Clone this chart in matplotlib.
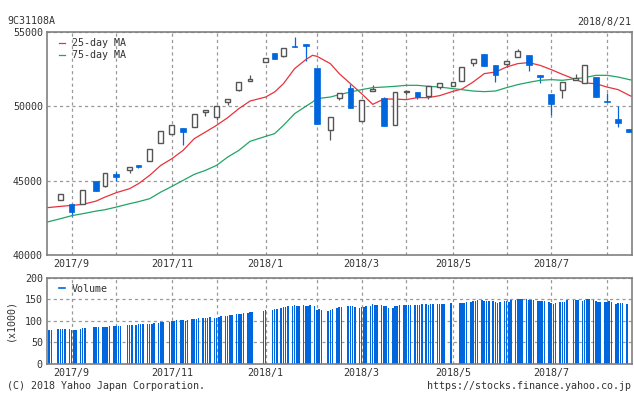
import matplotlib.pyplot as plt
from matplotlib.lines import Line2D

# weekly candles (x = trading-day slot, 5 slots per week)
candle_day = [6, 11, 16, 22, 26, 31, 37, 41, 46, 51, 56, 61, 66, 71, 76, 81, 86, 91, 98, 102,
              106, 111, 116, 121, 127, 131, 136, 141, 146, 151, 156, 161, 166, 171, 176, 182, 186, 191, 196, 201,
              206, 211, 216, 221, 226, 231, 237, 241, 246, 251, 256, 261]
c_open = [43721, 43451, 43425, 44952, 44663, 45444, 45693, 46029, 46318, 47557, 48162, 48566, 48606, 49643, 49280, 50289, 51076, 51702, 52981, 53567,
          53385, 54058, 54219, 52557, 48431, 50585, 51258, 49037, 51056, 50538, 48741, 50962, 50989, 50693, 51325, 51393, 51729, 52941, 53499, 52759,
          52846, 53344, 53432, 52086, 50807, 51097, 51769, 51568, 51951, 50356, 49125, 48450]
c_high = [44077, 43451, 44393, 44952, 45511, 45578, 45895, 46060, 47153, 48364, 48721, 48566, 49508, 49777, 50000, 50491, 51635, 52133, 53277, 53567,
          53950, 54663, 54219, 52557, 49306, 50922, 51527, 50450, 51460, 50626, 50989, 51056, 50989, 51346, 51547, 51614, 52671, 53210, 53499, 52759,
          53076, 53836, 53432, 52086, 50807, 51662, 52153, 52759, 51951, 50894, 50000, 48450]
c_low = [43721, 42597, 43425, 44299, 44569, 44972, 45511, 45880, 46318, 47557, 48162, 47375, 48606, 49374, 49051, 50087, 51029, 51702, 52981, 53183,
         53317, 53970, 53028, 48808, 47758, 50450, 49885, 49037, 51056, 48674, 48741, 50740, 50491, 50518, 51164, 51393, 51729, 52712, 52712, 51635,
         52625, 53344, 52375, 51567, 49414, 50558, 51769, 51568, 50625, 50289, 48606, 48270]
c_close = [44077, 42886, 44393, 44299, 45511, 45242, 45895, 45914, 47153, 48364, 48721, 48270, 49508, 49777, 50000, 50491, 51635, 51837, 53277, 53183,
           53950, 53970, 54058, 48808, 49306, 50922, 49885, 50450, 51164, 48674, 50989, 51056, 50626, 51346, 51547, 51614, 52671, 53210, 52712, 52133,
           53076, 53701, 52779, 51971, 50154, 51662, 51931, 52759, 50625, 50289, 48876, 48270]

# moving averages
ma_day = [0, 6, 11, 16, 22, 26, 31, 37, 41, 46, 51, 56, 61, 66, 71, 76, 81, 86, 91, 98, 102,
          106, 111, 116, 119, 121, 127, 131, 136, 141, 146, 151, 156, 161, 166, 171, 176, 182, 186, 191, 196, 201,
          206, 211, 216, 221, 226, 231, 237, 241, 246, 251, 256, 261, 262]
ma25 = [43182, 43270, 43337, 43404, 43626, 43896, 44190, 44460, 44797, 45356, 46029, 46480, 47038, 47826, 48270, 48721, 49239, 49845, 50356, 50626, 50962,
        51527, 52537, 53142, 53432, 53365, 52873, 52200, 51527, 50854, 50134, 50491, 50491, 50450, 50585, 50585, 50720, 51009, 51164, 51635, 52200, 52308,
        52645, 52873, 52940, 52759, 52470, 52153, 51796, 51568, 51527, 51298, 51124, 50740, 50673]
ma75 = [42213, 42441, 42643, 42778, 42953, 43047, 43222, 43451, 43586, 43788, 44232, 44616, 45020, 45423, 45692, 46029, 46587, 47038, 47644, 47980, 48162,
        48721, 49508, 50000, 50290, 50518, 50626, 50787, 50962, 51124, 51258, 51298, 51346, 51413, 51413, 51346, 51298, 51190, 51124, 51029, 50989, 51029,
        51258, 51460, 51615, 51750, 51796, 51750, 51864, 51931, 52086, 52086, 51972, 51796, 51770]

# volume (x1000), four day slots per week, None = no bar
vol_weeks = [
    [None, 79, 79, None], [81, 81, 81, 81], [80, 79, 79, 79], [81, 83, 83, None],
    [None, 86, 86, 86], [86, 86, 86, 88], [88, 88, 88, 88], [None, 90, 90, 90],
    [90, 93, 93, 93], [93, 93, 93, 95], [95, 97, 97, None], [97, 100, 100, 102],
    [102, 102, 100, 102], [104, 104, 104, 106], [106, 106, 106, 109], [106, 106, 109, 111],
    [111, 111, 113, 113], [116, 116, 116, 118], [118, 120, 120, None], [None, None, 123, 125],
    [None, 125, 127, 127], [130, 132, 132, 134], [134, 137, 134, 134], [137, 134, 134, 137],
    [134, 125, 127, 125], [None, 123, 125, 127], [130, 132, 132, None], [134, 134, 134, 132],
    [130, 132, 132, 134], [134, 139, 137, 137], [137, 134, 134, 130], [130, 134, 134, 137],
    [137, 137, 137, 137], [137, 137, 137, 139], [139, 137, 139, 139], [139, 139, 139, 139],
    [None, 141, None, None], [141, 141, 141, 143], [143, 146, 146, 148], [148, 146, 146, 146],
    [146, 143, 141, 143], [146, 146, 143, 148], [148, 150, 150, 150], [150, 148, 148, 148],
    [146, 146, 146, 146], [143, 141, 139, 141], [143, 143, 143, 148], [None, 148, 148, 148],
    [146, 148, 150, 150], [148, 146, 143, 143], [143, 143, 146, 143], [139, 141, 141, 141],
    [139, None, None, None],
]

month_day = [11, 31, 56, 76, 98, 121, 141, 161, 182, 206, 226, 251]
month_label = ["2017/9", "", "2017/11", "", "2018/1", "", "2018/3", "", "2018/5", "", "2018/7", ""]

BLUE = '#0066dd'
RED = '#e8323c'
GREEN = '#22a466'
EDGE = '#555555'
TXT = '#333333'
FS = 7.2

plt.rcParams['font.family'] = 'DejaVu Sans Mono'

fig = plt.figure(figsize=(6.34, 3.94), dpi=100)
W, H = 634, 394
ax = fig.add_axes([47/W, 1-255/H, 584.5/W, 223/H])
axv = fig.add_axes([47/W, 1-364/H, 584.5/W, 86.5/H])

# candles
for d, o, h, l, c in zip(candle_day, c_open, c_high, c_low, c_close):
  up = c >= o
  col = EDGE if up else BLUE
  ax.vlines(d, l, h, color=col, linewidth=0.9, zorder=2)
  bot = min(o, c)
  hgt = max(abs(c - o), 20)
  if up:
    ax.bar(d, hgt, width=2.2, bottom=bot, facecolor='white', edgecolor=EDGE, linewidth=1.0, zorder=3)
  else:
    ax.bar(d, hgt, width=2.5, bottom=bot, facecolor=BLUE, edgecolor=BLUE, linewidth=0.5, zorder=3)

ax.plot(ma_day, ma25, color=RED, linewidth=0.9, label='25-day MA', zorder=2)
ax.plot(ma_day, ma75, color=GREEN, linewidth=0.9, label='75-day MA', zorder=2)

# volume
vol_x = []
vol_y = []
for w, week in enumerate(vol_weeks):
  for k, v in enumerate(week):
    if v is not None:
      vol_x.append(5*w + k)
      vol_y.append(v)
axv.bar(vol_x, vol_y, width=0.7, color=BLUE, linewidth=0, antialiased=False, zorder=2)

for a in (ax, axv):
  a.set_xlim(0, 262)
  a.set_xticks(month_day)
  a.set_xticklabels(month_label)
  a.grid(True, color='#999999', linestyle=(0, (2.5, 2.5)), linewidth=0.9)
  a.set_axisbelow(True)
  a.tick_params(length=0, labelsize=FS, colors=TXT, pad=3)
  for s in a.spines.values():
    s.set_color('#808080')
    s.set_linewidth(1.2)

ax.set_ylim(40000, 55000)
ax.set_yticks([40000, 45000, 50000, 55000])
axv.set_ylim(0, 200)
axv.set_yticks([0, 50, 100, 150, 200])

leg = ax.legend(loc='upper left', bbox_to_anchor=(6/584.5, 1.0), frameon=False, fontsize=FS,
                handlelength=0.6, handletextpad=0.7, labelspacing=0.2, borderaxespad=0.2, borderpad=0.4)
for t in leg.get_texts():
  t.set_color(TXT)
vol_handle = Line2D([], [], color=BLUE, linewidth=1.2)
legv = axv.legend([vol_handle], ['Volume'], loc='upper left', bbox_to_anchor=(6/584.5, 1.0), frameon=False,
                  fontsize=FS, handlelength=0.6, handletextpad=0.7, borderaxespad=0.2, borderpad=0.4)
for t in legv.get_texts():
  t.set_color(TXT)

fig.text(7/W, 1-21.5/H, '9C31108A', fontsize=FS, color=TXT, va='center', ha='left')
fig.text(631/W, 1-21.5/H, '2018/8/21', fontsize=FS, color=TXT, va='center', ha='right')
fig.text(10/W, 1-320/H, '(x1000)', fontsize=FS, color=TXT, va='center', ha='center', rotation=90)
fig.text(7/W, 1-386/H, '(C) 2018 Yahoo Japan Corporation.', fontsize=FS, color=TXT, va='center', ha='left')
fig.text(631/W, 1-386/H, 'https://stocks.finance.yahoo.co.jp', fontsize=FS, color=TXT, va='center', ha='right')

fig.savefig('out.png', dpi=100)
